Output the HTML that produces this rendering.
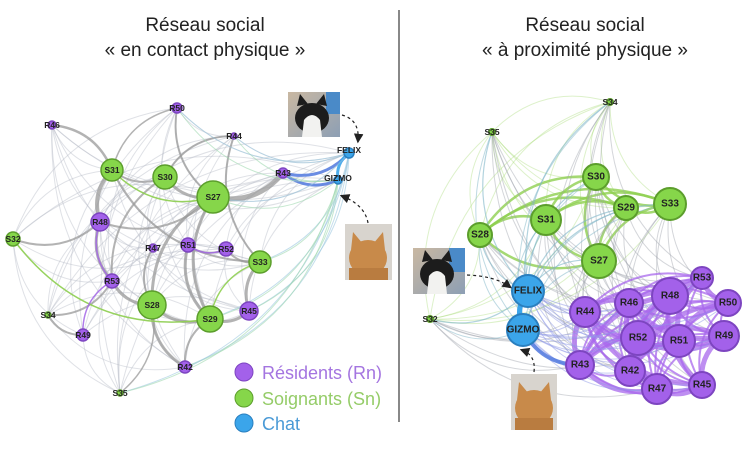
<!DOCTYPE html>
<html><head><meta charset="utf-8"><style>
html,body{margin:0;padding:0;background:#fff;}
svg{display:block;font-family:"Liberation Sans",sans-serif;}
.t{font-family:"Liberation Sans",sans-serif;font-size:19px;fill:#222;text-anchor:middle;}
.lg{font-family:"Liberation Sans",sans-serif;font-size:18px;}
.nl{font-size:8.5px;font-weight:bold;fill:#222;text-anchor:middle;dominant-baseline:central;}
.nr{font-size:10px;font-weight:bold;fill:#222;text-anchor:middle;dominant-baseline:central;}
</style></head><body>
<svg id="s" width="754" height="449" viewBox="0 0 754 449">
<text class="t" x="205" y="31">Réseau social</text>
<text class="t" x="205" y="56">« en contact physique »</text>
<text class="t" x="585" y="31">Réseau social</text>
<text class="t" x="585" y="56">« à proximité physique »</text>
<line x1="399" y1="10" x2="399" y2="422" stroke="#888" stroke-width="2"/>
<g id="edges" fill="none"></g>
<g id="nodes">
<g stroke-width="1.5">
<circle cx="177" cy="108" r="5" fill="#a361ea" stroke="#7d45c0"/>
<circle cx="52" cy="125" r="4" fill="#a361ea" stroke="#7d45c0"/>
<circle cx="234" cy="136" r="3" fill="#a361ea" stroke="#7d45c0"/>
<circle cx="112" cy="170" r="11" fill="#86d64a" stroke="#5c9e2c"/>
<circle cx="165" cy="177" r="12" fill="#86d64a" stroke="#5c9e2c"/>
<circle cx="213" cy="197" r="16" fill="#86d64a" stroke="#5c9e2c"/>
<circle cx="283" cy="173" r="5" fill="#a361ea" stroke="#7d45c0"/>
<circle cx="349" cy="153" r="5" fill="#3ba5ea" stroke="#2a7fbf"/>
<circle cx="338" cy="180" r="4" fill="#3ba5ea" stroke="#2a7fbf"/>
<circle cx="100" cy="222" r="9" fill="#a361ea" stroke="#7d45c0"/>
<circle cx="13" cy="239" r="7" fill="#86d64a" stroke="#5c9e2c"/>
<circle cx="153" cy="248" r="4" fill="#a361ea" stroke="#7d45c0"/>
<circle cx="188" cy="245" r="7" fill="#a361ea" stroke="#7d45c0"/>
<circle cx="226" cy="249" r="7" fill="#a361ea" stroke="#7d45c0"/>
<circle cx="260" cy="262" r="11" fill="#86d64a" stroke="#5c9e2c"/>
<circle cx="112" cy="281" r="7" fill="#a361ea" stroke="#7d45c0"/>
<circle cx="152" cy="305" r="14" fill="#86d64a" stroke="#5c9e2c"/>
<circle cx="210" cy="319" r="13" fill="#86d64a" stroke="#5c9e2c"/>
<circle cx="249" cy="311" r="9" fill="#a361ea" stroke="#7d45c0"/>
<circle cx="48" cy="315" r="3" fill="#86d64a" stroke="#5c9e2c"/>
<circle cx="83" cy="335" r="6" fill="#a361ea" stroke="#7d45c0"/>
<circle cx="185" cy="367" r="6" fill="#a361ea" stroke="#7d45c0"/>
<circle cx="120" cy="393" r="3" fill="#86d64a" stroke="#5c9e2c"/>
</g>
<text class="nl" x="177" y="108">R50</text><text class="nl" x="52" y="125">R46</text>
<text class="nl" x="234" y="136">R44</text><text class="nl" x="112" y="170">S31</text>
<text class="nl" x="165" y="177">S30</text><text class="nl" x="213" y="197">S27</text>
<text class="nl" x="283" y="173">R43</text><text class="nl" x="349" y="150">FELIX</text>
<text class="nl" x="338" y="178">GIZMO</text><text class="nl" x="100" y="222">R48</text>
<text class="nl" x="13" y="239">S32</text><text class="nl" x="153" y="248">R47</text>
<text class="nl" x="188" y="245">R51</text><text class="nl" x="226" y="249">R52</text>
<text class="nl" x="260" y="262">S33</text><text class="nl" x="112" y="281">R53</text>
<text class="nl" x="152" y="305">S28</text><text class="nl" x="210" y="319">S29</text>
<text class="nl" x="249" y="311">R45</text><text class="nl" x="48" y="315">S34</text>
<text class="nl" x="83" y="335">R49</text><text class="nl" x="185" y="367">R42</text>
<text class="nl" x="120" y="393">S35</text>
<g stroke-width="2">
<circle cx="610" cy="102" r="3" fill="#86d64a" stroke="#5c9e2c"/>
<circle cx="492" cy="132" r="3" fill="#86d64a" stroke="#5c9e2c"/>
<circle cx="430" cy="319" r="3" fill="#86d64a" stroke="#5c9e2c"/>
<circle cx="596" cy="177" r="13" fill="#86d64a" stroke="#5c9e2c"/>
<circle cx="626" cy="208" r="12" fill="#86d64a" stroke="#5c9e2c"/>
<circle cx="670" cy="204" r="16" fill="#86d64a" stroke="#5c9e2c"/>
<circle cx="546" cy="220" r="15" fill="#86d64a" stroke="#5c9e2c"/>
<circle cx="480" cy="235" r="12" fill="#86d64a" stroke="#5c9e2c"/>
<circle cx="599" cy="261" r="17" fill="#86d64a" stroke="#5c9e2c"/>
<circle cx="528" cy="291" r="16" fill="#3ba5ea" stroke="#2a7fbf"/>
<circle cx="523" cy="330" r="16" fill="#3ba5ea" stroke="#2a7fbf"/>
<circle cx="702" cy="278" r="11" fill="#a361ea" stroke="#7d45c0"/>
<circle cx="670" cy="296" r="18" fill="#a361ea" stroke="#7d45c0"/>
<circle cx="629" cy="303" r="14" fill="#a361ea" stroke="#7d45c0"/>
<circle cx="728" cy="303" r="13" fill="#a361ea" stroke="#7d45c0"/>
<circle cx="585" cy="312" r="15" fill="#a361ea" stroke="#7d45c0"/>
<circle cx="638" cy="338" r="17" fill="#a361ea" stroke="#7d45c0"/>
<circle cx="679" cy="341" r="16" fill="#a361ea" stroke="#7d45c0"/>
<circle cx="724" cy="336" r="15" fill="#a361ea" stroke="#7d45c0"/>
<circle cx="580" cy="365" r="14" fill="#a361ea" stroke="#7d45c0"/>
<circle cx="630" cy="371" r="15" fill="#a361ea" stroke="#7d45c0"/>
<circle cx="657" cy="389" r="15" fill="#a361ea" stroke="#7d45c0"/>
<circle cx="702" cy="385" r="13" fill="#a361ea" stroke="#7d45c0"/>
</g>
<text class="nl" x="610" y="102">S34</text><text class="nl" x="492" y="132">S35</text>
<text class="nl" x="430" y="319">S32</text>
<text class="nr" x="596" y="177">S30</text><text class="nr" x="626" y="208">S29</text>
<text class="nr" x="670" y="204">S33</text><text class="nr" x="546" y="220">S31</text>
<text class="nr" x="480" y="235">S28</text><text class="nr" x="599" y="261">S27</text>
<text class="nr" x="528" y="291">FELIX</text><text class="nr" x="523" y="330">GIZMO</text>
<text class="nr" x="702" y="278">R53</text><text class="nr" x="670" y="296">R48</text>
<text class="nr" x="629" y="303">R46</text><text class="nr" x="728" y="303">R50</text>
<text class="nr" x="585" y="312">R44</text><text class="nr" x="638" y="338">R52</text>
<text class="nr" x="679" y="341">R51</text><text class="nr" x="724" y="336">R49</text>
<text class="nr" x="580" y="365">R43</text><text class="nr" x="630" y="371">R42</text>
<text class="nr" x="657" y="389">R47</text><text class="nr" x="702" y="385">R45</text>
</g>
<defs>
<linearGradient id="bw" x1="0" y1="0" x2="1" y2="1"><stop offset="0" stop-color="#c9b8a2"/><stop offset="1" stop-color="#8d9fb4"/></linearGradient>
<marker id="ah" markerWidth="8" markerHeight="8" refX="6" refY="4" orient="auto"><path d="M0,0 L8,4 L0,8 z" fill="#222"/></marker>
</defs>
<g transform="translate(288,92)">
<rect width="52" height="45" fill="url(#bw)"/><rect x="38" width="14" height="22" fill="#4a8ac8"/>
<ellipse cx="24" cy="26" rx="17" ry="15" fill="#1c1c1c"/><path d="M9,14 L12,2 L20,12 Z M28,12 L36,2 L39,14 Z" fill="#1c1c1c"/>
<path d="M16,28 Q24,18 32,28 L34,45 L14,45 Z" fill="#f2f2f0"/></g>
<g transform="translate(413,248)">
<rect width="52" height="46" fill="url(#bw)"/><rect x="36" width="16" height="24" fill="#4a8ac8"/>
<ellipse cx="24" cy="26" rx="17" ry="15" fill="#1c1c1c"/><path d="M9,14 L12,2 L20,12 Z M28,12 L36,2 L39,14 Z" fill="#1c1c1c"/>
<path d="M16,28 Q24,18 32,28 L34,46 L14,46 Z" fill="#f2f2f0"/></g>
<g transform="translate(345,224)">
<rect width="47" height="56" fill="#d8d4ce"/><ellipse cx="23" cy="34" rx="19" ry="18" fill="#c88a4a"/>
<path d="M6,26 L8,8 L18,20 Z M28,20 L38,8 L40,26 Z" fill="#c88a4a"/><rect x="4" y="44" width="39" height="12" fill="#b97c40"/></g>
<g transform="translate(511,374)">
<rect width="46" height="56" fill="#d8d4ce"/><ellipse cx="23" cy="34" rx="19" ry="18" fill="#c88a4a"/>
<path d="M6,26 L8,8 L18,20 Z M28,20 L38,8 L40,26 Z" fill="#c88a4a"/><rect x="4" y="44" width="38" height="12" fill="#b97c40"/></g>
<g fill="none" stroke="#222" stroke-width="1.2" stroke-dasharray="3,3" marker-end="url(#ah)">
<path d="M342,115 Q360,120 358,141"/>
<path d="M368,223 Q365,205 342,196"/>
<path d="M467,275 Q495,276 510,287"/>
<path d="M534,372 Q536,355 522,350"/>
</g>
<circle cx="244" cy="372" r="9" fill="#a361ea" stroke="#7d45c0"/>
<circle cx="244" cy="398" r="9" fill="#86d64a" stroke="#5c9e2c"/>
<circle cx="244" cy="423" r="9" fill="#3ba5ea" stroke="#2a7fbf"/>
<text class="lg" x="262" y="379" fill="#a475e0">Résidents (Rn)</text>
<text class="lg" x="262" y="405" fill="#95cc68">Soignants (Sn)</text>
<text class="lg" x="262" y="430" fill="#4a9ad6">Chat</text>
</svg>
<script>
(function(){
var L={R50:[177,108],R46:[52,125],R44:[234,136],S31:[112,170],S30:[165,177],S27:[213,197],R43:[283,173],FE:[349,153],GI:[338,180],R48:[100,222],S32:[13,239],R47:[153,248],R51:[188,245],R52:[226,249],S33:[260,262],R53:[112,281],S28:[152,305],S29:[210,319],R45:[249,311],S34:[48,315],R49:[83,335],R42:[185,367],S35:[120,393]};
var R={S34:[610,102],S35:[492,132],S32:[430,319],S30:[596,177],S29:[626,208],S33:[670,204],S31:[546,220],S28:[480,235],S27:[599,261],FE:[528,291],GI:[523,330],R53:[702,278],R48:[670,296],R46:[629,303],R50:[728,303],R44:[585,312],R52:[638,338],R51:[679,341],R49:[724,336],R43:[580,365],R42:[630,371],R47:[657,389],R45:[702,385]};
var g=document.getElementById('edges'),ns='http://www.w3.org/2000/svg';
function e(P,a,b,c,w,op){var p=P[a],q=P[b];var mx=(p[0]+q[0])/2,my=(p[1]+q[1])/2,dx=q[0]-p[0],dy=q[1]-p[1];
var k=0.3;var el=document.createElementNS(ns,'path');el.setAttribute('d','M'+p[0]+','+p[1]+' Q'+(mx-dy*k)+','+(my+dx*k)+' '+q[0]+','+q[1]);
el.setAttribute('stroke',c);el.setAttribute('stroke-width',w);el.setAttribute('stroke-opacity',op);g.appendChild(el);}
var lk=Object.keys(L);
for(var i=0;i<lk.length;i++)for(var j=i+1;j<lk.length;j++){var h=(i*7+j*13)%5;if(h<2)e(L,lk[i],lk[j],'#b8bcc8',1,0.45);}
var heavy=[['S31','R48',4],['R48','R53',3],['S27','R43',5],['S27','S28',3],['S27','S29',3],['S28','S29',3],['S29','R45',3],['S33','R45',3],['S28','R42',3],['S31','R46',2.5],['S30','S27',3],['S31','S30',2],['R51','S29',3],['R48','S27',2],['S32','R48',2],['S34','R53',2],['R53','S28',3],['R50','S27',2],['R44','S33',2],['S30','R53',2],['S31','S33',2],['R52','S33',2],['R47','S28',2],['S29','R42',2],['S34','R49',2],['S35','S28',1.5],['R44','S30',2],['R50','S31',1.5],['R51','R52',2]];
heavy.forEach(function(x){e(L,x[0],x[1],'#9a9a9a',x[2],0.75);});
[['S31','S27'],['S33','S29'],['S32','S29']].forEach(function(x){e(L,x[0],x[1],'#8fd050',1.5,0.9);});
[['R48','R53'],['R53','R49'],['R51','R52']].forEach(function(x){e(L,x[0],x[1],'#a361ea',1.5,0.8);});
e(L,'R43','FE','#5a7fe0',3,0.9);e(L,'R43','GI','#5a7fe0',3,0.9);e(L,'FE','GI','#3ba5ea',3,0.9);
['S27','S33','R45','S29','R42','S35','R44','R50'].forEach(function(n){e(L,n,'FE','#9cc8e0',1,0.6);e(L,n,'GI','#a0d8b0',1,0.6);});
var rs=['S34','S35','S32','S30','S29','S33','S31','S28','S27'],rr=['R53','R48','R46','R50','R44','R52','R51','R49','R43','R42','R47','R45'];
for(var i=0;i<rs.length;i++)for(var j=i+1;j<rs.length;j++)e(R,rs[i],rs[j],'#8fd050',(i>2&&j>2)?2.5:1,(i>2&&j>2)?0.8:0.3);
rs.forEach(function(s,i){rr.forEach(function(r,j){if((i+j)%2==0)e(R,s,r,'#a0a4ac',1,0.45);});});
for(var i=0;i<rr.length;i++)for(var j=i+1;j<rr.length;j++)e(R,rr[i],rr[j],'#a868ec',((i+j)%3==0)?5:2,0.75);
rs.forEach(function(s){e(R,s,'FE','#7fb6c8',1.2,0.6);e(R,s,'GI','#7fb6c8',1,0.5);});
rr.forEach(function(r){e(R,'FE',r,'#8f9ae8',1,0.5);e(R,'GI',r,'#8f9ae8',1,0.5);});
e(R,'FE','GI','#3ba5ea',5,1);e(R,'GI','R43','#5a7fe0',4,0.9);
})();
</script>
</body></html>
